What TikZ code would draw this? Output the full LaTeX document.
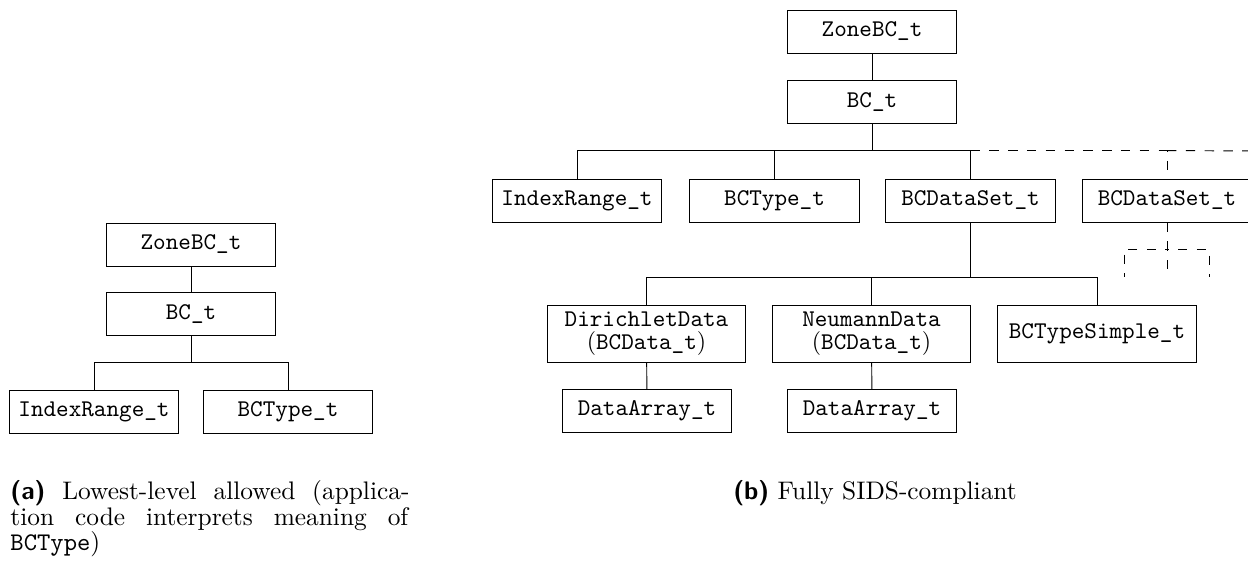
\documentclass[tikz,border=0pt]{standalone}
\usepackage{tikz}
\newcommand*{\verzweige}[3][]{% #1 = options, #2 = parent anchor, #3 = child anchor
   \draw[#1] (#2) |- ([yshift=11.9pt]#3) -- (#3);
}

\begin{document}
\begin{tikzpicture}[
		x=0.4255pt,
		y=-0.4255pt,
		thin
	]
	  	\tikzstyle{typ}=[
	  		rectangle,
	  		draw,
	  		minimum width=72.3pt,
	  		minimum height=18.3pt,
	  		inner sep=0pt,
	  		font=\fontsize{10.2}{9.9}\selectfont\ttfamily
	  	]
	  	\tikzstyle{typzwei}=[
	  		typ,
	  		minimum width=84.3pt,
	  		minimum height=24.3pt,
	  		align=center
	  	]
	  	\tikzstyle{gestrichelt}=[dash pattern=on 4pt off 4pt]
	  	\tikzstyle{unterschrift}=[inner sep=0pt, font=\fontsize{10.8}{10.9}\selectfont]

	  	\useasboundingbox (0,0) rectangle (1248,561);
	  	\clip (0,0) rectangle (1248,561);

	  	% (a)
	  	\node[typ] (zoneA) at (191,244.5) {ZoneBC\_t};
	  	\node[typ] (bcA) at (191,314) {BC\_t};
	  	\node[typ] (idxA) at (94,412) {IndexRange\_t};
	  	\node[typ] (typA) at (288,412) {BCType\_t};
	  	\draw (zoneA) -- (bcA);
	  	\verzweige{bcA.south}{idxA.north}
	  	\verzweige{bcA.south}{typA.north}

	  	% (b)
	  	\node[typ] (zoneB) at (872,31.5) {ZoneBC\_t};
	  	\node[typ] (bcB) at (872,102) {BC\_t};
	  	\node[typ] (idxB) at (577,200.5) {IndexRange\_t};
	  	\node[typ] (typB) at (774.5,200.5) {BCType\_t};
	  	\node[typ] (dsB) at (970.5,200.5) {BCDataSet\_t};
	  	\node[typ] (dsC) at (1167,200.5) {BCDataSet\_t};
	  	\node[typzwei] (diriB) at (646.5,334) {DirichletData\\{\rmfamily(}BCData\_t{\rmfamily)}};
	  	\node[typzwei] (neuB) at (871.5,334) {NeumannData\\{\rmfamily(}BCData\_t{\rmfamily)}};
	  	\node[typzwei] (einfB) at (1097,334) {BCTypeSimple\_t};
	  	\node[typ] (arrB) at (647,411) {DataArray\_t};
	  	\node[typ] (arrC) at (872,411) {DataArray\_t};
	  	\draw (zoneB) -- (bcB);
	  	\verzweige{bcB.south}{idxB.north}
	  	\verzweige{bcB.south}{typB.north}
	  	\verzweige{bcB.south}{dsB.north}
	  	\verzweige{dsB.south}{diriB.north}
	  	\verzweige{dsB.south}{neuB.north}
	  	\verzweige{dsB.south}{einfB.north}
	  	\draw (diriB) -- (arrB);
	  	\draw (neuB) -- (arrC);
	  	% weitere Datensaetze
	  	\coordinate (rand) at (1260,151);
	  	\coordinate (lose1) at (1124,277);
	  	\coordinate (lose2) at (1167,277);
	  	\coordinate (lose3) at (1209,277);
	  	\draw[gestrichelt] ([yshift=11.9pt]dsB.north) -| (dsC.north);
	  	\draw[gestrichelt] ([yshift=11.9pt]dsC.north) -- (rand);
	  	\verzweige[gestrichelt]{dsC.south}{lose1}
	  	\verzweige[gestrichelt]{dsC.south}{lose2}
	  	\verzweige[gestrichelt]{dsC.south}{lose3}

	  	% Unterschriften
	  	\node[unterschrift, anchor=north west, text width=169.8pt, align=justify] (capA) at (10,480) {\textsf{\textbf{(a)}} Lowest-level allowed (applica-\linebreak tion code interprets meaning of\linebreak \texttt{BCType})};
	  	\node[unterschrift, anchor=north] (capB) at (875,480) {\textsf{\textbf{(b)}} Fully SIDS-compliant};
	\end{tikzpicture}
\end{document}
